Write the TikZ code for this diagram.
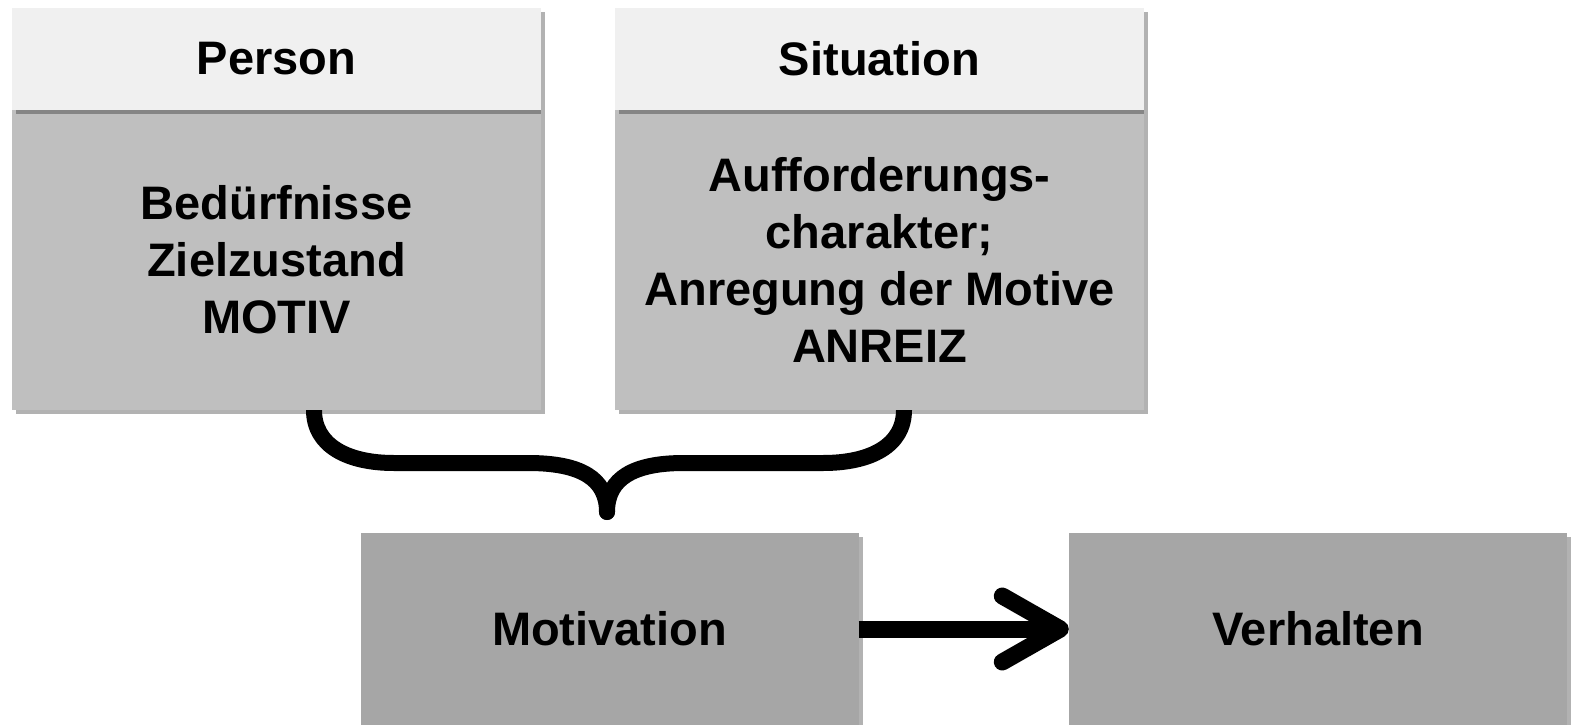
\documentclass[tikz,border=0pt]{standalone}
\usepackage{fontspec}
\setmainfont{Liberation Sans}
\usepackage{xcolor}
\usepackage{tikz}
\usetikzlibrary{arrows.meta}
\usetikzlibrary{positioning}
\usetikzlibrary{shadows}
\definecolor{headgray}{HTML}{F0F0F0}
\definecolor{bodygray}{HTML}{BFBFBF}
\definecolor{resultgray}{HTML}{A6A6A6}
\tikzstyle{box} = [rectangle, inner sep=0pt, align=center, font=\bfseries\fontsize{47}{57}\selectfont, drop shadow={shadow xshift=4pt, shadow yshift=-4pt, fill=black, opacity=0.3}]
\tikzstyle{headbox} = [box, fill=headgray, minimum width=529pt, minimum height=102pt]
\tikzstyle{bodybox} = [box, fill=bodygray, minimum width=529pt, minimum height=300pt]
\tikzstyle{resultbox} = [box, fill=resultgray, minimum width=498pt, minimum height=192pt]
\tikzstyle{brace} = [line width=16pt, line cap=round]
\tikzstyle{arrow} = [line width=17pt, -{Straight Barb[length=58pt, width=66pt, round]}]

\begin{document}
\begin{tikzpicture}[x=1pt, y=-1pt]
\useasboundingbox (0,0) rectangle (1571,725);
% brace
\coordinate (bl) at (314,410);
\coordinate (br) at (904,410);
\coordinate (tip) at (607,512);
\draw[brace] (bl) .. controls (314,446) and (348,463) .. (394,463) -- (528,463)
  .. controls (580,463) and (607,478) .. (tip);
\draw[brace] (br) .. controls (904,446) and (870,463) .. (823,463) -- (684,463)
  .. controls (634,463) and (607,478) .. (tip);
% boxes
\node[bodybox] (pbody) at (276.5,260) {Bedürfnisse\\Zielzustand\\MOTIV};
\node[bodybox] (sbody) at (879.5,260) {Aufforderungs-\\charakter;\\Anregung der Motive\\ANREIZ};
\node[headbox, above=0pt of pbody] (phead) {Person};
\node[headbox, above=0pt of sbody] (shead) {Situation};
\node[resultbox] (mot) at (609.5,629) {Motivation};
\node[resultbox] (verh) at (1318,629) {Verhalten};
\draw[arrow] (mot.east) -- (verh.west);
\end{tikzpicture}
\end{document}
